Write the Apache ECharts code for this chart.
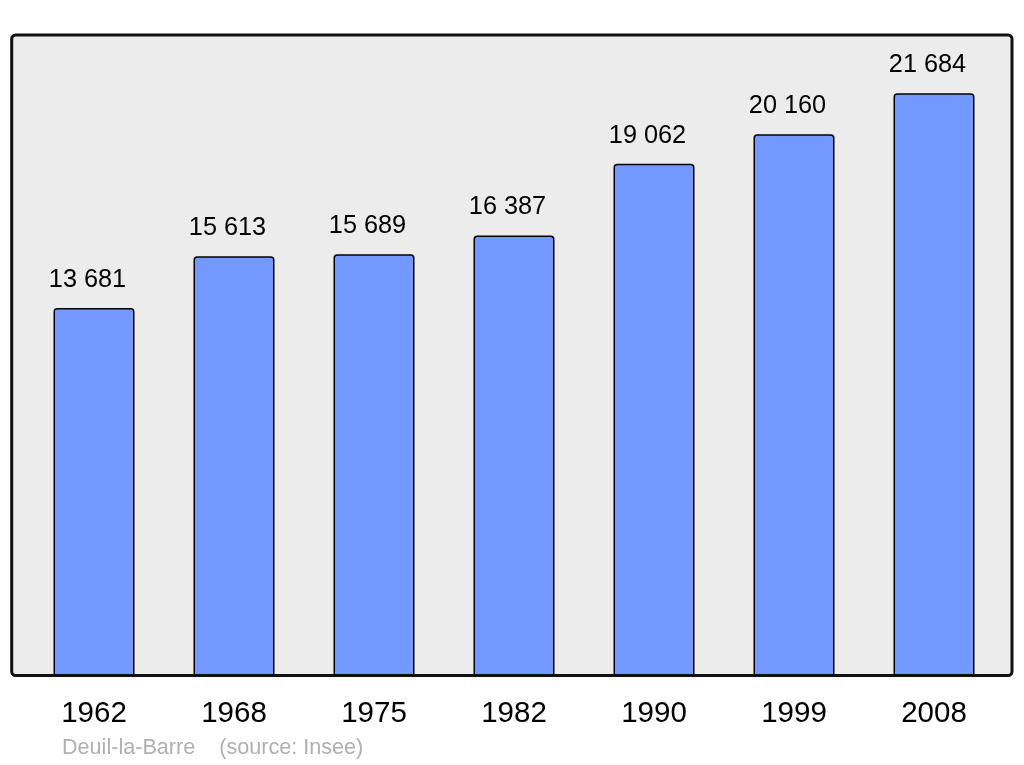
<!DOCTYPE html>
<html>
<head>
<meta charset="utf-8">
<style>html,body{margin:0;padding:0;background:#fff;}#c{width:1024px;height:765px;}</style>
<script src="https://cdn.jsdelivr.net/npm/echarts@6/dist/echarts.min.js"></script>
</head>
<body>
<div id="c"></div>
<script>
const years = ['1962', '1968', '1975', '1982', '1990', '1999', '2008'];
const population = [13681, 15613, 15689, 16387, 19062, 20160, 21684];
const footerText = 'Deuil-la-Barre    (source: Insee)';

function fmt(v) {
  return String(v).replace(/\B(?=(\d{3})+(?!\d))/g, ' ');
}

const chart = echarts.init(document.getElementById('c'));
chart.setOption({
  animation: false,
  backgroundColor: '#ffffff',
  textStyle: { fontFamily: 'Liberation Sans, Arial, sans-serif' },
  grid: { left: 24, right: 20, top: 35, bottom: 89.5 },
  graphic: [
    { type: 'rect', z: -10, silent: true,
      shape: { x: 11.7, y: 35, width: 1000.3, height: 640.5, r: 4 },
      style: { fill: '#ececec', stroke: null } },
    { type: 'rect', z: 100, silent: true,
      shape: { x: 11.7, y: 35, width: 1000.3, height: 640.5, r: 4 },
      style: { fill: null, stroke: '#111111', lineWidth: 3 } },
    { type: 'text', left: 62, top: 737.5, silent: true,
      style: { text: footerText, fill: '#b0b0b0', fontSize: 21.6,
               fontFamily: 'Liberation Sans, Arial, sans-serif' } }
  ],
  xAxis: {
    type: 'category', data: years,
    axisLine: { show: false }, axisTick: { show: false },
    axisLabel: { color: '#000', fontSize: 29.5, margin: 23,
                 fontFamily: 'Liberation Sans, Arial, sans-serif' }
  },
  yAxis: { type: 'value', min: 0, max: 23852, show: false, splitLine: { show: false } },
  series: [{
    type: 'bar', data: population, barWidth: 81,
    itemStyle: { color: '#7398ff', borderColor: '#000', borderWidth: 1.5, borderRadius: [3, 3, 0, 0] },
    label: { show: true, position: 'top', distance: 15.5, offset: [-6.5, 0], color: '#000', fontSize: 25.3,
             fontFamily: 'Liberation Sans, Arial, sans-serif',
             formatter: p => fmt(p.value) }
  }]
});
</script>
</body>
</html>
